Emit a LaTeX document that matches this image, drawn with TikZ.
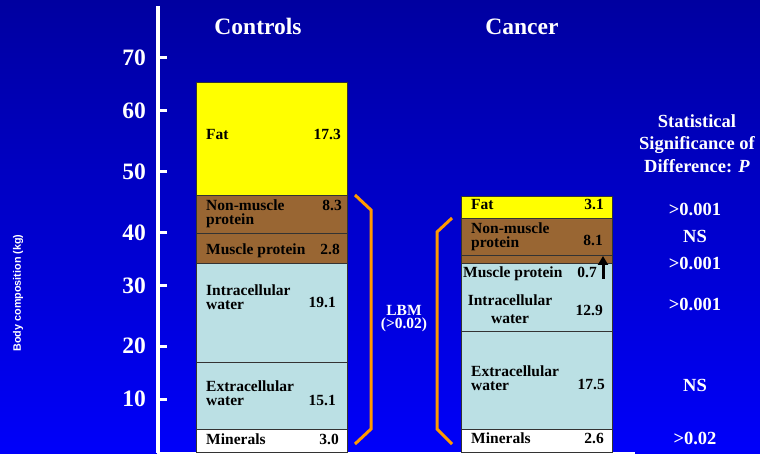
\documentclass[tikz,border=0pt]{standalone}
\usepackage{fontspec}
\setmainfont{Liberation Serif}
\newfontfamily\axisfont{Liberation Sans}
\usetikzlibrary{arrows.meta, positioning}

\definecolor{bgtop}{RGB}{0,0,160}
\definecolor{bgbottom}{RGB}{0,0,250}
\definecolor{fatyellow}{RGB}{255,255,0}
\definecolor{protbrown}{RGB}{153,102,51}
\definecolor{waterblue}{RGB}{187,224,228}
\definecolor{lbmorange}{RGB}{255,153,0}

\begin{document}
\begin{tikzpicture}[x=1pt, y=-1pt,
  cell/.style={draw=black!80, line width=0.8pt},
  part/.style={inner sep=0pt, align=left, font=\fontsize{15.5}{13.5}\selectfont\bfseries},
  val/.style={inner sep=0pt, anchor=base east, font=\fontsize{15.5}{13.5}\selectfont\bfseries},
  head/.style={inner sep=0pt, anchor=base, text=white, font=\fontsize{23.5}{28}\selectfont\bfseries},
  pval/.style={inner sep=0pt, anchor=base, text=white, font=\fontsize{18.5}{22.5}\selectfont\bfseries},
  brace/.style={draw=lbmorange, line width=3pt}]

  \shade[top color=bgtop, bottom color=bgbottom] (0,0) rectangle (760,454);
  \useasboundingbox (0,0) rectangle (760,454);

  % axes
  \draw[white, line width=4pt] (158,6) -- (158,453);
  \draw[white, line width=2.5pt] (157,452.8) -- (635,452.8);
  \foreach \v/\y in {10/399, 20/346, 30/286, 40/233, 50/172, 60/111, 70/58} {
    \draw[white, line width=3pt] (158,\y) -- (167,\y);
    \node[head, anchor=east] (tick\v) at (146,\y) {\v};
  }
  \node[rotate=90, text=white, font=\axisfont\fontsize{10.8}{13}\selectfont\bfseries] (ylab) at (18,293) {Body composition (kg)};

  \node[head] (ctitle) at (258,35) {Controls};
  \node[head] (ktitle) at (522,35) {Cancer};

  % controls
  \filldraw[cell, fill=fatyellow] (196,82) rectangle (347,195);
  \filldraw[cell, fill=protbrown] (196,195) rectangle (347,233);
  \filldraw[cell, fill=protbrown] (196,233) rectangle (347,263);
  \filldraw[cell, fill=waterblue] (196,263) rectangle (347,362);
  \filldraw[cell, fill=waterblue] (196,362) rectangle (347,429);
  \filldraw[cell, fill=white] (196,429) rectangle (347,452);

  \node[part, anchor=base west] (cfatl) at (206,140) {Fat};
  \node[val] (cfatv) at (341,140) {17.3};
  \node[part, anchor=north west] (cnmpl) at (206,200) {Non-muscle\\protein};
  \node[val] (cnmpv) at (342,211) {8.3};
  \node[part, anchor=base west] (cmpl) at (206,255) {Muscle protein};
  \node[val] (cmpv) at (340,255) {2.8};
  \node[part, anchor=north west] (cicwl) at (206,285) {Intracellular\\water};
  \node[val] (cicwv) at (336,308) {19.1};
  \node[part, anchor=north west] (cecwl) at (206,381) {Extracellular\\water};
  \node[val] (cecwv) at (336,405) {15.1};
  \node[part, anchor=base west] (cminl) at (206,444) {Minerals};
  \node[val] (cminv) at (339,444) {3.0};

  % cancer
  \filldraw[cell, fill=fatyellow] (461,196) rectangle (612,218);
  \filldraw[cell, fill=protbrown] (461,218) rectangle (612,255);
  \filldraw[cell, fill=protbrown] (461,255) rectangle (612,263);
  \filldraw[cell, fill=waterblue] (461,263) rectangle (612,331);
  \filldraw[cell, fill=waterblue] (461,331) rectangle (612,429);
  \filldraw[cell, fill=white] (461,429) rectangle (612,452);

  \node[part, anchor=base west] (kfatl) at (471,210) {Fat};
  \node[val] (kfatv) at (604,210) {3.1};
  \node[part, anchor=north west] (knmpl) at (471,223) {Non-muscle\\protein};
  \node[val] (knmpv) at (603,246) {8.1};
  \node[part, anchor=base west] (kmpl) at (463,277) {Muscle protein};
  \node[val] (kmpv) at (597,277) {0.7};
  \node[part, anchor=north, align=center, font=\fontsize{15.5}{18}\selectfont\bfseries] (kicwl) at (510,295) {Intracellular\\water};
  \node[val] (kicwv) at (603,315) {12.9};
  \node[part, anchor=north west] (kecwl) at (471,366) {Extracellular\\water};
  \node[val] (kecwv) at (605,389) {17.5};
  \node[part, anchor=base west] (kminl) at (471,443) {Minerals};
  \node[val] (kminv) at (604,443) {2.6};

  \coordinate (mptail) at (603,279);
  \coordinate (mptip) at (603,256);
  \draw[line width=3pt, -{Triangle[width=10pt,length=9pt]}] (mptail) -- (mptip);

  % lean body mass brackets
  \draw[brace] (355,195) -- (371,210) -- (371,429) -- (355,444);
  \draw[brace] (452,218) -- (437,232) -- (437,429) -- (452,444);
  \node[part, anchor=north, align=center, text=white] (lbm) at (404,305) {LBM\\(>0.02)};

  % significance
  \node[pval, anchor=north, align=center] (sig) at (697,114) {Statistical\\Significance of\\Difference: \textit{P}};
  \node[pval] (pfat) at (695,216) {>0.001};
  \node[pval] (pnmp) at (695,243) {NS};
  \node[pval] (pmp) at (695,270) {>0.001};
  \node[pval] (picw) at (695,310) {>0.001};
  \node[pval] (pecw) at (695,391) {NS};
  \node[pval] (pmin) at (695,444) {>0.02};
\end{tikzpicture}
\end{document}
